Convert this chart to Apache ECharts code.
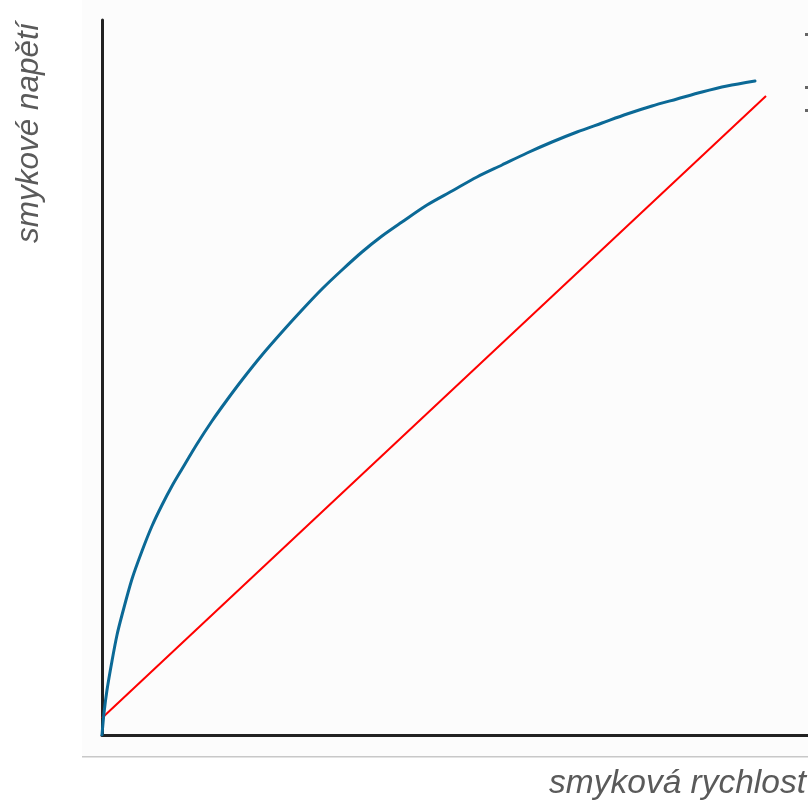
<!DOCTYPE html>
<html>
<head>
<meta charset="utf-8">
<script src="https://cdn.jsdelivr.net/npm/echarts@6/dist/echarts.min.js"></script>
<style>
html,body{margin:0;padding:0;background:#fff;}
#c{width:808px;height:806px;}
</style>
</head>
<body>
<div id="c"></div>
<script>
// Shear rate (x) vs shear stress (y), arbitrary units
const pseudoplasticX = [0, 2, 5, 10, 15, 20, 30, 40, 50, 60, 70, 80, 95, 110, 125, 140, 160, 180, 200, 220, 240, 260, 280, 300, 325, 350, 375, 400, 425, 450, 475, 500, 525, 550, 575, 600, 625, 653];
const pseudoplasticY = [0, 22, 45, 74, 100, 120, 156, 184, 209, 230, 249, 266, 291, 314, 335, 355, 380, 403, 425, 446, 465, 483, 499, 513, 530, 544, 558, 570, 582, 593, 603, 612, 621, 629, 636, 643, 649, 654];
const newtonianX = [0, 664];
const newtonianY = [17, 639];
const xLabel = 'smyková rychlost';
const yLabel = 'smykové napětí';

const chart = echarts.init(document.getElementById('c'), null, {renderer: 'canvas'});
chart.setOption({
  backgroundColor: '#ffffff',
  animation: false,
  grid: {left: 102, right: 0, top: 20, bottom: 71, containLabel: false},
  xAxis: {
    type: 'value', min: 0, max: 706,
    axisLine: {show: true, onZero: false, lineStyle: {color: '#222', width: 3}},
    axisTick: {show: false}, axisLabel: {show: false}, splitLine: {show: false}
  },
  yAxis: {
    type: 'value', min: 0, max: 715,
    axisLine: {show: true, onZero: false, lineStyle: {color: '#222', width: 3}},
    axisTick: {show: false}, axisLabel: {show: false}, splitLine: {show: false}
  },
  graphic: [
    {type: 'rect', z: -10, shape: {x: 82, y: 0, width: 726, height: 757}, style: {fill: '#fcfcfc'}, silent: true},
    {type: 'rect', z: -9, shape: {x: 82, y: 756, width: 726, height: 1.5}, style: {fill: '#c8c8c8'}, silent: true},
    {type: 'text', x: 806, y: 767, style: {text: xLabel, font: 'italic 33.5px "Liberation Sans", Arial, sans-serif', fill: '#5a5a5a', align: 'right', verticalAlign: 'top'}},
    {type: 'text', x: 13, y: 243, rotation: Math.PI / 2, style: {text: yLabel, font: 'italic 31.5px "Liberation Sans", Arial, sans-serif', fill: '#5a5a5a', align: 'left', verticalAlign: 'top'}},
    {type: 'rect', shape: {x: 805, y: 33, width: 3, height: 3}, style: {fill: '#666'}},
    {type: 'rect', shape: {x: 805, y: 86, width: 3, height: 3}, style: {fill: '#666'}},
    {type: 'rect', shape: {x: 805, y: 109, width: 3, height: 3}, style: {fill: '#666'}}
  ],
  series: [
    {
      type: 'line', name: 'pseudoplastic', smooth: 0.3, symbol: 'none',
      data: pseudoplasticX.map((x, i) => [x, pseudoplasticY[i]]),
      lineStyle: {color: '#0b6996', width: 3, cap: 'round'}, z: 3
    },
    {
      type: 'line', name: 'newtonian', symbol: 'none',
      data: newtonianX.map((x, i) => [x, newtonianY[i]]),
      lineStyle: {color: '#ff0000', width: 2}, z: 2
    }
  ]
});
</script>
</body>
</html>
